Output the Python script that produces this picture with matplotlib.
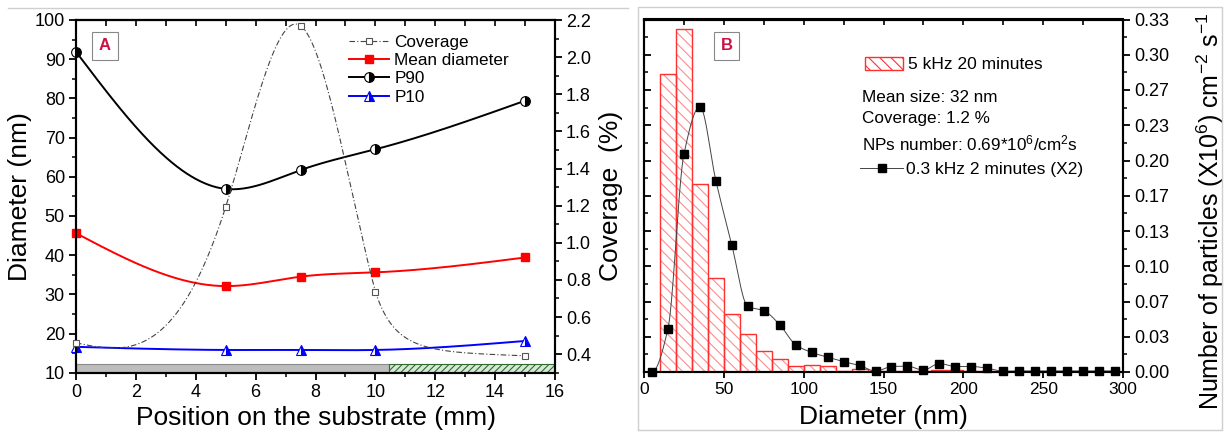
import numpy as np
import matplotlib
matplotlib.use("Agg")
import matplotlib.pyplot as plt
from matplotlib.ticker import MultipleLocator, FixedLocator, FuncFormatter
from matplotlib.lines import Line2D

plt.rcParams['font.family'] = ['Liberation Sans', 'DejaVu Sans']
plt.rcParams['mathtext.default'] = 'regular'
plt.rcParams['hatch.linewidth'] = 0.8

# ---------------- Panel A data ----------------
position_mm = [0, 5, 7.5, 10, 15]
coverage_pct = [0.461, 1.193, 2.169, 0.737, 0.391]
mean_diameter = [45.6, 32.1, 34.5, 35.6, 39.4]
p90_diameter = [91.9, 56.9, 61.7, 67.0, 79.4]
p10_diameter = [16.6, 15.8, 15.8, 15.8, 18.1]
substrate_edges = [0, 10.45, 16]

# ---------------- Panel B data ----------------
bin_left_nm = [10, 20, 30, 40, 50, 60, 70, 80, 90, 100, 110, 120, 130, 140,
               150, 160, 170, 180, 190, 200, 210]
hist_5khz = [0.2817, 0.3243, 0.1776, 0.0888, 0.0551, 0.0355, 0.0197, 0.0125,
             0.0055, 0.0064, 0.0055, 0.0014, 0.0030, 0.0008, 0.0005, 0.0005,
             0.0005, 0.0020, 0.0020, 0.0010, 0.0005]
marker_nm = [5, 15, 25, 35, 45, 55, 65, 75, 85, 95, 105, 115, 125, 135, 145,
             155, 165, 175, 185, 195, 205, 215, 225, 235, 245, 255, 265, 275,
             285, 295]
counts_03khz = [0.000, 0.041, 0.206, 0.251, 0.181, 0.120, 0.062, 0.058, 0.0447,
                0.0258, 0.0185, 0.014, 0.0097, 0.0062, 0.0008, 0.0052, 0.0055,
                0.0018, 0.0080, 0.0052, 0.0052, 0.0036, 0.0008, 0.001, 0.001,
                0.001, 0.001, 0.001, 0.001, 0.001]
right_ticks = [k / 30 for k in range(11)]


def natural_spline(x, y, xs):
    x = np.asarray(x, float); y = np.asarray(y, float)
    n = len(x); h = np.diff(x)
    A = np.zeros((n, n)); r = np.zeros(n)
    A[0, 0] = 1; A[-1, -1] = 1
    for i in range(1, n - 1):
        A[i, i - 1] = h[i - 1]; A[i, i] = 2 * (h[i - 1] + h[i]); A[i, i + 1] = h[i]
        r[i] = 6 * ((y[i + 1] - y[i]) / h[i] - (y[i] - y[i - 1]) / h[i - 1])
    M = np.linalg.solve(A, r)
    idx = np.clip(np.searchsorted(x, xs) - 1, 0, n - 2)
    x0 = x[idx]; x1 = x[idx + 1]; hh = h[idx]
    return (M[idx] * (x1 - xs) ** 3 / (6 * hh) + M[idx + 1] * (xs - x0) ** 3 / (6 * hh)
            + (y[idx] / hh - M[idx] * hh / 6) * (x1 - xs)
            + (y[idx + 1] / hh - M[idx + 1] * hh / 6) * (xs - x0))


def pchip(x, y, xs):
    x = np.asarray(x, float); y = np.asarray(y, float)
    n = len(x); h = np.diff(x); d = np.diff(y) / h
    m = np.zeros(n)
    for k in range(1, n - 1):
        if d[k - 1] * d[k] > 0:
            w1 = 2 * h[k] + h[k - 1]; w2 = h[k] + 2 * h[k - 1]
            m[k] = (w1 + w2) / (w1 / d[k - 1] + w2 / d[k])

    def endslope(h0, h1, d0, d1):
        s = ((2 * h0 + h1) * d0 - h0 * d1) / (h0 + h1)
        if np.sign(s) != np.sign(d0):
            return 0.0
        if np.sign(d0) != np.sign(d1) and abs(s) > 3 * abs(d0):
            return 3 * d0
        return s
    m[0] = endslope(h[0], h[1], d[0], d[1])
    m[-1] = endslope(h[-1], h[-2], d[-1], d[-2])
    idx = np.clip(np.searchsorted(x, xs) - 1, 0, n - 2)
    t = (xs - x[idx]) / h[idx]
    h00 = 2 * t**3 - 3 * t**2 + 1; h10 = t**3 - 2 * t**2 + t
    h01 = -2 * t**3 + 3 * t**2; h11 = t**3 - t**2
    return (h00 * y[idx] + h10 * h[idx] * m[idx] + h01 * y[idx + 1]
            + h11 * h[idx] * m[idx + 1])


def decay_tail(x0, y0, x1, y1, xs, s0=-0.5, floor=0.37, s1=-0.3):
    """Smooth decaying connector between two markers (log-Hermite above a floor)."""
    h = x1 - x0
    v0 = np.log(y0 - floor); v1 = np.log(y1 - floor); m0 = s0 / (y0 - floor)
    t = (xs - x0) / h
    h00 = 2 * t**3 - 3 * t**2 + 1; h10 = t**3 - 2 * t**2 + t
    h01 = -2 * t**3 + 3 * t**2; h11 = t**3 - t**2
    return floor + np.exp(h00 * v0 + h10 * h * m0 + h01 * v1 + h11 * h * s1)


W, H = 1228, 432
fig = plt.figure(figsize=(W / 100, H / 100), dpi=100)

fig.add_artist(Line2D([8 / W, 628 / W], [1 - 8 / H, 1 - 8 / H], color='#cfcfcf', lw=1))
fig.add_artist(Line2D([638 / W, 638 / W, 1222 / W, 1222 / W, 638 / W],
                      [1 - 430 / H, 1 - 7 / H, 1 - 7 / H, 1 - 430 / H, 1 - 430 / H],
                      color='#cfcfcf', lw=1))

# ======================= Panel A =======================
A_left, A_right, A_top, A_bot = 76, 555, 20, 372.7
axA = fig.add_axes([A_left / W, (H - A_bot) / H, (A_right - A_left) / W, (A_bot - A_top) / H])
axA.set_xlim(0, 16)
axA.set_ylim(10, 100)

axA.bar(substrate_edges[0], 2.2, width=substrate_edges[1] - substrate_edges[0], bottom=10,
        align='edge', facecolor='#bdbdbd', edgecolor='#8a8a8a', lw=0.8, zorder=1)
axA.bar(substrate_edges[1], 2.2, width=substrate_edges[2] - substrate_edges[1], bottom=10,
        align='edge', facecolor='#d6e9d6', edgecolor='#2f6b2f', hatch='/////', lw=0.8, zorder=1)

xs = np.linspace(position_mm[0], position_mm[-1], 500)
for vals, col in [(p90_diameter, 'black'), (mean_diameter, 'red'), (p10_diameter, 'blue')]:
    axA.plot(xs, natural_spline(position_mm, vals, xs), color=col, lw=1.4, zorder=3)
axA.plot(position_mm, p90_diameter, ls='none', marker='o', ms=7, fillstyle='right',
         markerfacecolor='black', markerfacecoloralt='white', markeredgecolor='black',
         mew=0.8, zorder=4, clip_on=False)
axA.plot(position_mm, mean_diameter, ls='none', marker='s', ms=6, color='red', zorder=4,
         clip_on=False)
axA.plot(position_mm, p10_diameter, ls='none', marker='^', ms=7, fillstyle='right',
         markerfacecolor='blue', markerfacecoloralt='white', markeredgecolor='blue',
         mew=0.8, zorder=4, clip_on=False)

axA.xaxis.set_major_locator(MultipleLocator(2))
axA.xaxis.set_minor_locator(MultipleLocator(1))
axA.yaxis.set_major_locator(MultipleLocator(10))
axA.yaxis.set_minor_locator(MultipleLocator(5))
axA.tick_params(which='major', direction='out', length=5, width=1.3, labelsize=13, pad=3)
axA.tick_params(which='minor', direction='out', length=3, width=1.1)
for s in axA.spines.values():
    s.set_linewidth(1.5)
secA = axA.secondary_xaxis('top')
secA.set_xticks(list(range(0, 17)))
secA.tick_params(direction='in', length=4, width=1.2, labeltop=False)
secA.spines['top'].set_linewidth(1.5)

axA.set_xlabel('Position on the substrate (mm)', fontsize=19)
axA.set_ylabel('Diameter (nm)', fontsize=19)
axA.xaxis.set_label_coords(0.5, -0.093)
axA.yaxis.set_label_coords(-0.092, 0.5)

axA2 = axA.twinx()
axA2.set_ylim(0.3, 2.2)
# smooth guide line: spline through the first four markers' region, decaying tail after
xa = np.linspace(position_mm[0], position_mm[3], 400)
xb = np.linspace(position_mm[3], position_mm[4], 200)
cov_x = np.concatenate([xa, xb])
cov_y = np.concatenate([natural_spline(position_mm, coverage_pct, xa),
                        decay_tail(position_mm[3], coverage_pct[3], position_mm[4],
                                   coverage_pct[4], xb)])
axA2.plot(cov_x, cov_y, color='#444444', lw=0.8, ls=(0, (5, 2, 1, 2)), zorder=2)
axA2.plot(position_mm, coverage_pct, ls='none', marker='s', ms=5, markerfacecolor='white',
          markeredgecolor='#555555', mew=0.8, zorder=4, clip_on=False)
axA2.yaxis.set_major_locator(FixedLocator([0.4, 0.6, 0.8, 1.0, 1.2, 1.4, 1.6, 1.8, 2.0, 2.2]))
axA2.yaxis.set_minor_locator(MultipleLocator(0.1))
axA2.yaxis.set_major_formatter(FuncFormatter(lambda v, p: '%.1f' % v))
axA2.tick_params(which='major', direction='out', length=5, width=1.3, labelsize=13, pad=3)
axA2.tick_params(which='minor', direction='out', length=3, width=1.1)
for s in axA2.spines.values():
    s.set_linewidth(1.5)
axA2.set_ylabel('Coverage  (%)', fontsize=19)
axA2.yaxis.set_label_coords(1.092, 0.5)

hA = [Line2D([], [], color='#444444', lw=0.8, ls=(0, (5, 2, 1, 2)), marker='s', ms=5,
             markerfacecolor='white', markeredgecolor='#555555', mew=0.8),
      Line2D([], [], color='red', lw=1.4, marker='s', ms=6),
      Line2D([], [], color='black', lw=1.4, marker='o', ms=7, fillstyle='right',
             markerfacecolor='black', markerfacecoloralt='white', markeredgecolor='black', mew=0.8),
      Line2D([], [], color='blue', lw=1.4, marker='^', ms=7, fillstyle='right',
             markerfacecolor='blue', markerfacecoloralt='white', markeredgecolor='blue', mew=0.8)]
axA2.legend(hA, ['Coverage', 'Mean diameter', 'P90', 'P10'], loc='upper left',
            bbox_to_anchor=(349 / W, 1 - 34.5 / H), bbox_transform=fig.transFigure,
            frameon=False, fontsize=12.3, handlelength=2.35, handletextpad=0.3,
            labelspacing=0.2, borderpad=0, borderaxespad=0, numpoints=1)

axA2.text(105 / W, 1 - 46 / H, 'A', transform=fig.transFigure, ha='center', va='center',
          fontsize=12, fontweight='bold', color='#cc1144',
          bbox=dict(boxstyle='square,pad=0.4', facecolor='white', edgecolor='#888888', lw=0.8))

# ======================= Panel B =======================
B_left, B_right, B_top, B_bot = 644, 1123, 19.5, 372
axB = fig.add_axes([B_left / W, (H - B_bot) / H, (B_right - B_left) / W, (B_bot - B_top) / H])
axB.set_xlim(0, 300)
axB.set_ylim(0, 1 / 3)
hatch_bars = axB.bar(bin_left_nm, hist_5khz, width=10, align='edge', facecolor='white',
                     edgecolor='#ff8c8c', hatch='\\\\\\', lw=0, zorder=2)
axB.bar(bin_left_nm, hist_5khz, width=10, align='edge', facecolor='none',
        edgecolor='#ff3030', lw=1.0, zorder=2)
mx = np.linspace(marker_nm[0], marker_nm[-1], 1500)
axB.plot(mx, pchip(marker_nm, counts_03khz, mx), color='#444444', lw=0.7, zorder=3)
axB.plot(marker_nm, counts_03khz, ls='none', marker='s', ms=5.5, color='black', zorder=4,
         clip_on=False)

axB.xaxis.set_major_locator(MultipleLocator(50))
axB.yaxis.set_major_locator(FixedLocator(right_ticks))
axB.yaxis.set_minor_locator(FixedLocator([k / 60 for k in range(21)]))
axB.tick_params(axis='x', which='major', direction='out', length=4, width=1.3, labelsize=12.5, pad=3)
axB.tick_params(axis='y', which='both', direction='in', labelleft=False)
axB.tick_params(axis='y', which='major', length=5, width=1.3)
axB.tick_params(axis='y', which='minor', length=3, width=1.1)
for s in axB.spines.values():
    s.set_linewidth(1.5)
secB = axB.secondary_xaxis('top')
secB.set_xticks(list(range(0, 301, 25)))
secB.tick_params(direction='in', length=4, width=1.2, labeltop=False)
secB.spines['top'].set_linewidth(1.5)
axB.set_xlabel('Diameter (nm)', fontsize=19)
axB.xaxis.set_label_coords(0.5, -0.093)

axB2 = axB.twinx()
axB2.set_ylim(0, 1 / 3)
axB2.yaxis.set_major_locator(FixedLocator(right_ticks))
axB2.yaxis.set_minor_locator(FixedLocator([k / 60 for k in range(21)]))
axB2.yaxis.set_major_formatter(FuncFormatter(lambda v, p: '%.2f' % v))
axB2.tick_params(which='major', direction='out', length=5, width=1.3, labelsize=13, pad=3)
axB2.tick_params(which='minor', direction='out', length=3, width=1.1)
for s in axB2.spines.values():
    s.set_linewidth(1.5)
axB2.set_ylabel('Number of particles (X10$^{6}$) cm$^{-2}$ s$^{-1}$', fontsize=18)
axB2.yaxis.set_label_coords(1.15, 0.455)

leg1 = axB2.legend([hatch_bars], ['5 kHz 20 minutes'], loc='upper left',
                   bbox_to_anchor=(865 / W, 1 - 57 / H), bbox_transform=fig.transFigure,
                   frameon=False, fontsize=12.5, handlelength=2.2, handleheight=0.75,
                   handletextpad=0.3, borderpad=0, borderaxespad=0)
leg1.get_patches()[0].set_edgecolor('#ff3030')
leg1.get_patches()[0].set_linewidth(1.0)
axB2.add_artist(leg1)
hB = [Line2D([], [], color='#444444', lw=0.7, marker='s', ms=5.5, markerfacecolor='black',
             markeredgecolor='black')]
axB2.legend(hB, ['0.3 kHz 2 minutes (X2)'], loc='upper left',
            bbox_to_anchor=(860 / W, 1 - 162 / H), bbox_transform=fig.transFigure,
            frameon=False, fontsize=12.5, handlelength=2.5, handletextpad=0.15,
            borderpad=0, borderaxespad=0, numpoints=1)

info = ['Mean size: 32 nm', 'Coverage: 1.2 %', 'NPs number: 0.69*10$^{6}$/cm$^{2}$s']
info_y = [97, 118, 143]
for t, yy in zip(info, info_y):
    axB2.text(862 / W, 1 - yy / H, t, transform=fig.transFigure, ha='left', va='center',
              fontsize=12.3)

axB2.text(726.5 / W, 1 - 46 / H, 'B', transform=fig.transFigure, ha='center', va='center',
          fontsize=12, fontweight='bold', color='#cc1144',
          bbox=dict(boxstyle='square,pad=0.4', facecolor='white', edgecolor='#888888', lw=0.8))

fig.savefig('out.png', dpi=100)
